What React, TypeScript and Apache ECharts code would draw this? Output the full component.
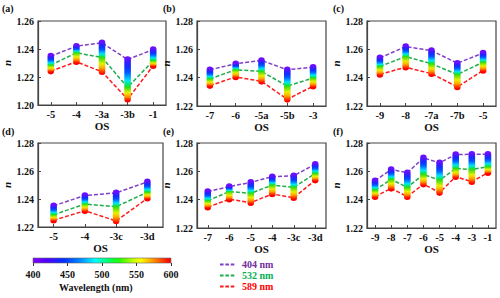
import React, { useEffect, useRef } from "react";
import * as echarts from "echarts";

// ---- data ----
const catsA = ["-5", "-4", "-3a", "-3b", "-1"];
const a404 = [1.2349, 1.242, 1.2444, 1.2325, 1.2396];
const a532 = [1.2285, 1.2373, 1.2339, 1.2126, 1.2316];
const a589 = [1.2242, 1.2309, 1.2237, 1.2041, 1.228];

const catsB = ["-7", "-6", "-5a", "-5b", "-3"];
const b404 = [1.2456, 1.2498, 1.2521, 1.2456, 1.2474];
const b532 = [1.2391, 1.2456, 1.2444, 1.234, 1.2398];
const b589 = [1.2344, 1.2405, 1.2374, 1.2247, 1.234];

const catsC = ["-9", "-8", "-7a", "-7b", "-5"];
const c404 = [1.254, 1.2619, 1.2591, 1.2502, 1.2574];
const c532 = [1.2479, 1.2549, 1.2498, 1.2423, 1.2509];
const c589 = [1.2423, 1.2474, 1.2428, 1.2335, 1.2451];

const catsD = ["-5", "-4", "-3c", "-3d"];
const d404 = [1.2352, 1.2425, 1.2444, 1.2522];
const d532 = [1.2287, 1.2364, 1.2345, 1.2449];
const d589 = [1.2248, 1.2316, 1.2243, 1.2405];

const catsE = ["-7", "-6", "-5", "-4", "-3c", "-3d"];
const e404 = [1.2457, 1.2492, 1.2522, 1.2562, 1.2569, 1.265];
const e532 = [1.2393, 1.2457, 1.2445, 1.2503, 1.2487, 1.2585];
const e589 = [1.2347, 1.2403, 1.2379, 1.244, 1.2414, 1.2538];

const catsF = ["-9", "-8", "-7", "-6", "-5", "-4", "-3", "-1"];
const f404 = [1.2534, 1.2613, 1.259, 1.2695, 1.266, 1.2718, 1.2721, 1.272];
const f532 = [1.2468, 1.2543, 1.2487, 1.2578, 1.2538, 1.262, 1.2613, 1.2632];
const f589 = [1.2421, 1.248, 1.2421, 1.251, 1.245, 1.2562, 1.2527, 1.259];

const panelLabels = ["(a)", "(b)", "(c)", "(d)", "(e)", "(f)"];
const yMins = [1.2, 1.22, 1.22, 1.22, 1.22, 1.22];
const yMaxs = [1.26, 1.28, 1.28, 1.28, 1.28, 1.28];
const yStep = 0.02;
const seriesNames = ["404 nm", "532 nm", "589 nm"];
const wlMin = 400;
const wlMax = 600;
const wlStep = 50;

const panels = [
  { cats: catsA, v: [a404, a532, a589] },
  { cats: catsB, v: [b404, b532, b589] },
  { cats: catsC, v: [c404, c532, c589] },
  { cats: catsD, v: [d404, d532, d589] },
  { cats: catsE, v: [e404, e532, e589] },
  { cats: catsF, v: [f404, f532, f589] },
];

// ---- layout / style ----
const gridPos = [
  { left: 32, top: 21, width: 134, height: 84 },
  { left: 197, top: 21, width: 129, height: 85 },
  { left: 367, top: 21, width: 129, height: 85 },
  { left: 32, top: 143, width: 131, height: 84 },
  { left: 197, top: 143, width: 129, height: 85 },
  { left: 367, top: 143, width: 129, height: 85 },
];
const labelPos = [
  [2, 3],
  [163, 3],
  [333, 3],
  [2, 126],
  [163, 126],
  [333, 126],
];
const lineColors = ["#8040c8", "#1fae48", "#ff1a1a"];
const textColors = ["#7030a0", "#00b050", "#ff0000"];
const FONT = "'Liberation Serif', 'Times New Roman', serif";
const AX = "#444";
const DASH_ICON = "path://M0,0h4v2h-4zM6,0h4v2h-4zM12,0h4v2h-4zM19,0h0.01v2h-0.01z";

const stackStops: [number, string][] = [
  [400, "#6a10ff"],
  [412, "#3a1cff"],
  [430, "#1030ff"],
  [450, "#0058ff"],
  [472, "#00a8ff"],
  [490, "#00e8f0"],
  [510, "#00e880"],
  [532, "#30dc10"],
  [555, "#e8f000"],
  [572, "#ffa800"],
  [589, "#ff3800"],
  [600, "#ff0000"],
];
const barStops: [number, string][] = [
  [400, "#7f00ff"],
  [420, "#5000ff"],
  [445, "#0030ff"],
  [470, "#0090ff"],
  [490, "#00ffff"],
  [510, "#00ff60"],
  [525, "#20ff00"],
  [545, "#c0ff00"],
  [556, "#ffff00"],
  [575, "#ff9000"],
  [595, "#ff1000"],
  [600, "#ff0000"],
];

function gC(l: number) {
  const a = 1 / (404 * 404);
  const b = 1 / (589 * 589);
  return (a - 1 / (l * l)) / (a - b);
}

function stackItem(params: any, api: any) {
  const i = api.value(0);
  const p1 = api.coord([i, api.value(1)]);
  const p2 = api.coord([i, api.value(2)]);
  const p3 = api.coord([i, api.value(3)]);
  const r = 3.3;
  const L = Math.max(p3[1] - p1[1], 0.001);
  const f = Math.min(Math.max((p2[1] - p1[1]) / L, 0.05), 0.95);
  const top = p1[1] - r;
  const h = L + 2 * r;
  const g532 = gC(532);
  const colorStops = stackStops.map(([lam, col]) => {
    const g = gC(lam);
    let p = lam <= 532 ? (f * g) / g532 : f + ((1 - f) * (g - g532)) / (1 - g532);
    let o = (r + p * L) / h;
    o = Math.min(Math.max(o, 0), 1);
    return { offset: o, color: col };
  });
  return {
    type: "rect",
    shape: { x: p1[0] - r, y: top, width: 2 * r, height: h, r: r },
    style: { fill: new echarts.graphic.LinearGradient(0, 0, 0, 1, colorStops) },
  };
}

function barItem(params: any, api: any) {
  const p1 = api.coord([api.value(0), 1]);
  const p2 = api.coord([api.value(1), 0]);
  const span = wlMax - wlMin;
  return {
    type: "rect",
    shape: { x: p1[0], y: p1[1], width: p2[0] - p1[0], height: p2[1] - p1[1] },
    style: {
      fill: new echarts.graphic.LinearGradient(
        0,
        0,
        1,
        0,
        barStops.map(([l, c]) => ({ offset: (l - wlMin) / span, color: c }))
      ),
      stroke: "#666",
      lineWidth: 0.6,
    },
  };
}

export default function App() {
  const ref = useRef<HTMLDivElement>(null);
  useEffect(() => {
    if (!ref.current) return;
    const chart = echarts.init(ref.current, undefined, { renderer: "svg" });

    const grid: any[] = gridPos.map((g) => ({
      ...g,
      show: true,
      borderColor: AX,
      borderWidth: 1.2,
      backgroundColor: "transparent",
    }));
    grid.push({ left: 33, top: 258, width: 138, height: 5 });

    const xAxis: any[] = panels.map((p, k) => ({
      type: "category",
      gridIndex: k,
      data: p.cats,
      boundaryGap: true,
      name: "OS",
      nameLocation: "middle",
      nameGap: 15,
      nameTextStyle: { fontFamily: FONT, fontWeight: "bold", fontSize: 11, color: "#111" },
      axisLine: { lineStyle: { color: AX, width: 1.2 } },
      axisTick: { show: true, inside: true, alignWithLabel: true, length: 3, lineStyle: { color: AX } },
      axisLabel: { margin: 4, fontFamily: FONT, fontWeight: "bold", fontSize: 10.5, color: "#111", interval: 0 },
      splitLine: { show: false },
    }));
    xAxis.push({
      type: "value",
      gridIndex: 6,
      min: wlMin,
      max: wlMax,
      interval: wlStep,
      axisLine: { show: false },
      axisTick: { show: true, inside: false, length: 3, lineStyle: { color: "#333" } },
      axisLabel: { margin: 6, fontFamily: FONT, fontWeight: "bold", fontSize: 10, color: "#111" },
      splitLine: { show: false },
    });

    const yAxis: any[] = panels.map((p, k) => ({
      type: "value",
      gridIndex: k,
      min: yMins[k],
      max: yMaxs[k],
      interval: yStep,
      name: "n",
      nameLocation: "middle",
      nameGap: 26,
      nameRotate: 90,
      nameTextStyle: { fontFamily: FONT, fontWeight: "bold", fontStyle: "italic", fontSize: 11, color: "#111" },
      axisLine: { show: true, lineStyle: { color: AX, width: 1.2 } },
      axisTick: { show: true, inside: true, length: 3, lineStyle: { color: AX } },
      axisLabel: {
        margin: 4,
        fontFamily: FONT,
        fontWeight: "bold",
        fontSize: 10,
        color: "#111",
        formatter: (v: number) => v.toFixed(2),
      },
      splitLine: { show: false },
    }));
    yAxis.push({ type: "value", gridIndex: 6, min: 0, max: 1, show: false });

    const series: any[] = [];
    panels.forEach((p, k) => {
      p.v.forEach((vals, j) => {
        series.push({
          type: "line",
          name: seriesNames[j],
          xAxisIndex: k,
          yAxisIndex: k,
          data: vals,
          symbol: "none",
          z: 2,
          lineStyle: { color: lineColors[j], width: 1.5, type: [4, 2] },
          itemStyle: { color: lineColors[j] },
        });
      });
      series.push({
        type: "custom",
        xAxisIndex: k,
        yAxisIndex: k,
        z: 3,
        renderItem: stackItem,
        encode: { x: 0, y: [1, 2, 3] },
        data: p.cats.map((_, i) => [i, p.v[0][i], p.v[1][i], p.v[2][i]]),
      });
    });
    series.push({
      type: "custom",
      xAxisIndex: 6,
      yAxisIndex: 6,
      renderItem: barItem,
      encode: { x: [0, 1] },
      data: [[wlMin, wlMax]],
    });

    chart.setOption({
      animation: false,
      backgroundColor: "#fff",
      grid,
      xAxis,
      yAxis,
      series,
      legend: {
        show: true,
        orient: "vertical",
        left: 220,
        top: 259,
        height: 39,
        itemWidth: 17,
        itemHeight: 2,
        itemGap: 0,
        padding: 0,
        selectedMode: false,
        icon: DASH_ICON,
        data: seriesNames.map((n, j) => ({
          name: n,
          icon: DASH_ICON,
          itemStyle: { color: lineColors[j] },
          textStyle: { color: textColors[j] },
        })),
        textStyle: {
          fontFamily: FONT,
          fontWeight: "bold",
          fontSize: 10,
          lineHeight: 11,
        },
      },
      graphic: [
        ...panelLabels.map((t, k) => ({
          type: "text",
          left: labelPos[k][0],
          top: labelPos[k][1],
          style: { text: t, font: `bold 10px ${FONT}`, fill: "#111" },
        })),
        {
          type: "text",
          left: 59,
          top: 282,
          style: { text: "Wavelength (nm)", font: `bold 10px ${FONT}`, fill: "#111" },
        },
      ],
    });
    return () => chart.dispose();
  }, []);
  return (
    <div
      ref={ref}
      style={{ position: "fixed", left: 0, top: 0, width: 500, height: 298, background: "#fff" }}
    />
  );
}
